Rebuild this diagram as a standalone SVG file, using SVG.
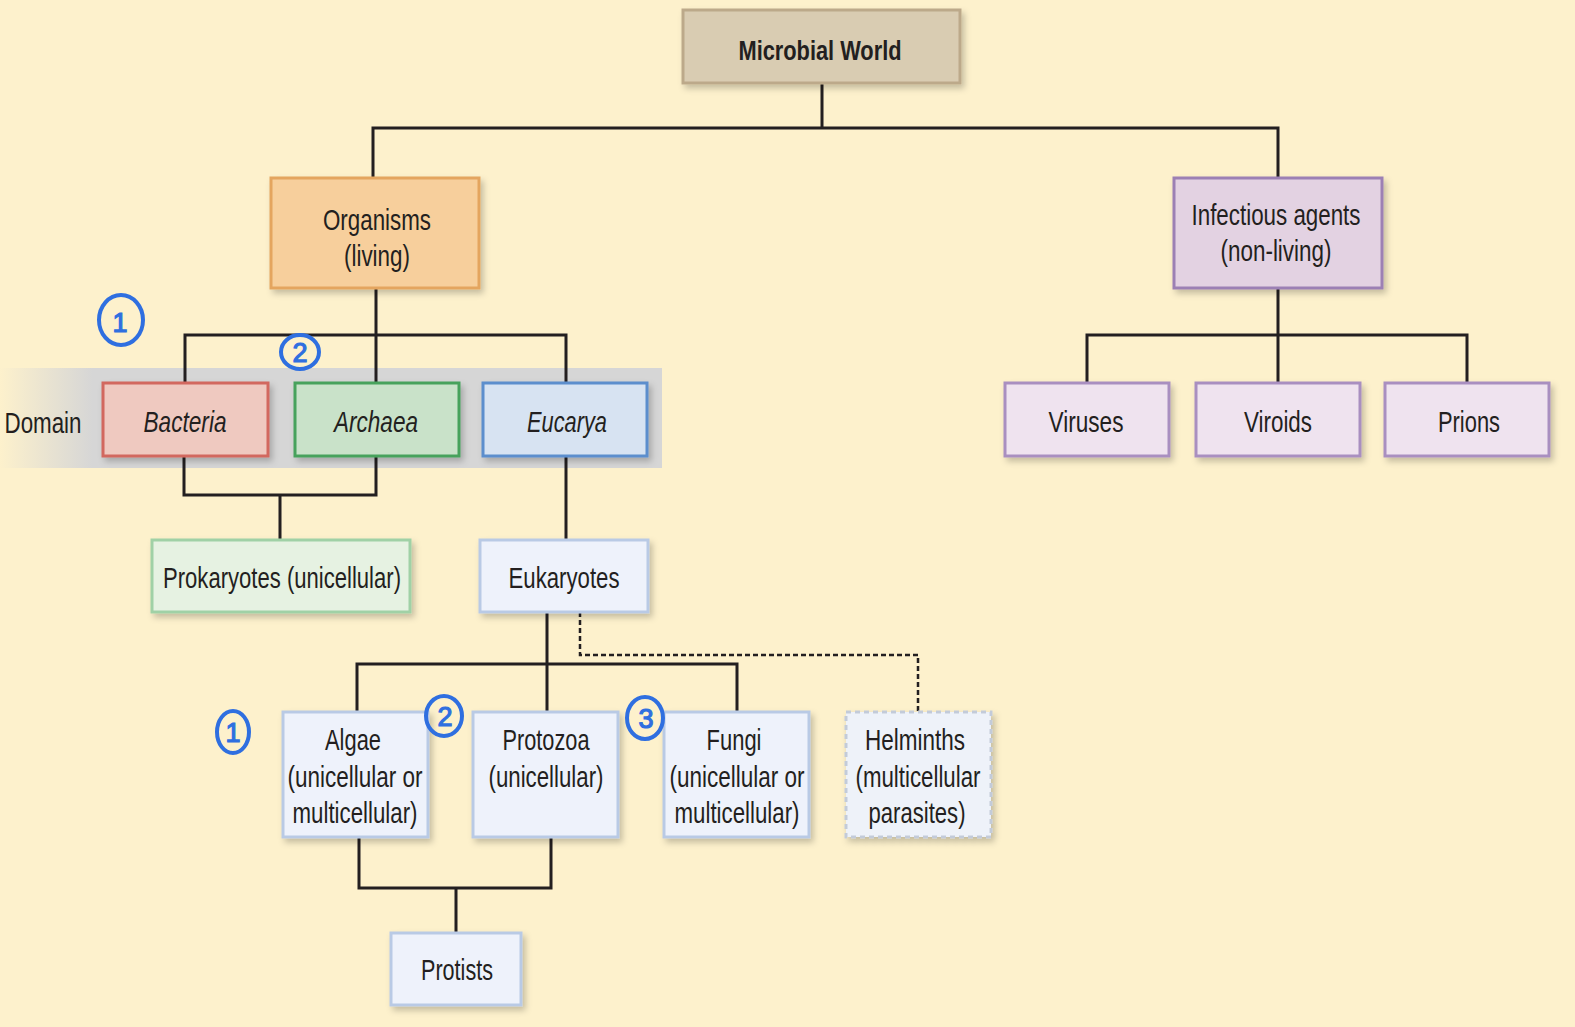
<svg xmlns="http://www.w3.org/2000/svg" width="1575" height="1027" viewBox="0 0 1575 1027">
<defs>
<filter id="sh" x="-10%" y="-10%" width="130%" height="130%">
<feDropShadow dx="3" dy="4" stdDeviation="3" flood-color="#000" flood-opacity="0.22"/>
</filter>
<linearGradient id="band" x1="0" y1="0" x2="1" y2="0">
<stop offset="0" stop-color="#fdf1cc"/>
<stop offset="0.14" stop-color="#d6d6d6"/>
<stop offset="1" stop-color="#d6d6d6"/>
</linearGradient>
<style>
text{font-family:"Liberation Sans",Arial,sans-serif;font-size:30px;fill:#231f20;text-anchor:middle}
.b{font-weight:bold;font-size:28px}
.i{font-style:italic}
.box{stroke-width:3;filter:url(#sh)}
.ln{fill:none;stroke:#231f20;stroke-width:3}
.dash{fill:none;stroke:#231f20;stroke-width:2.5;stroke-dasharray:5 3}
.ann{fill:none;stroke:#2f6fe0;stroke-width:4}
.annt{fill:#2f6fe0;stroke:#2f6fe0;stroke-width:1.2;font-family:"Liberation Sans",sans-serif;font-size:27px;text-anchor:middle}
</style>
</defs>
<rect width="1575" height="1027" fill="#fdf1cc"/>
<rect x="0" y="368" width="662" height="100" fill="url(#band)"/>
<text x="43" y="433" textLength="77" lengthAdjust="spacingAndGlyphs">Domain</text>

<g id="connectors">
<path class="ln" d="M822 83V128M373 178V128H1278V178"/>
<path class="ln" d="M376 288V383M185 383V335H566V383"/>
<path class="ln" d="M1278 288V383M1087 383V335H1467V383"/>
<path class="ln" d="M184 456V495H376V456M280 495V540"/>
<path class="ln" d="M566 456V540"/>
<path class="ln" d="M547 612V712M357 712V664H737V712"/>
<path class="dash" d="M580 612V655H918V712"/>
<path class="ln" d="M359 838V888H551V838M456 888V933"/>
</g>

<g id="microbial-world">
<rect class="box" x="683" y="10" width="277" height="73" fill="#d9ccb2" stroke="#bca98a"/>
<text class="b" x="820" y="60" textLength="163" lengthAdjust="spacingAndGlyphs">Microbial World</text>
</g>
<g id="organisms">
<rect class="box" x="271" y="178" width="208" height="110" fill="#f7cf9c" stroke="#e4a55f"/>
<text x="377" y="230" textLength="108" lengthAdjust="spacingAndGlyphs">Organisms</text>
<text x="377" y="266" textLength="66" lengthAdjust="spacingAndGlyphs">(living)</text>
</g>
<g id="infectious-agents">
<rect class="box" x="1174" y="178" width="208" height="110" fill="#e3d2e2" stroke="#9c80b4"/>
<text x="1276" y="225" textLength="169" lengthAdjust="spacingAndGlyphs">Infectious agents</text>
<text x="1276" y="261" textLength="111" lengthAdjust="spacingAndGlyphs">(non-living)</text>
</g>
<g id="bacteria">
<rect class="box" x="103" y="383" width="165" height="73" fill="#efc9c0" stroke="#d2675f"/>
<text class="i" x="185" y="432" textLength="83" lengthAdjust="spacingAndGlyphs">Bacteria</text>
</g>
<g id="archaea">
<rect class="box" x="295" y="383" width="164" height="73" fill="#c9e2c9" stroke="#47a25c"/>
<text class="i" x="376" y="432" textLength="84" lengthAdjust="spacingAndGlyphs">Archaea</text>
</g>
<g id="eucarya">
<rect class="box" x="483" y="383" width="164" height="73" fill="#d7e3f2" stroke="#5b8ecd"/>
<text class="i" x="567" y="432" textLength="80" lengthAdjust="spacingAndGlyphs">Eucarya</text>
</g>
<g id="viruses">
<rect class="box" x="1005" y="383" width="164" height="73" fill="#efe3ef" stroke="#a98fc0"/>
<text x="1086" y="432" textLength="75" lengthAdjust="spacingAndGlyphs">Viruses</text>
</g>
<g id="viroids">
<rect class="box" x="1196" y="383" width="164" height="73" fill="#efe3ef" stroke="#a98fc0"/>
<text x="1278" y="432" textLength="68" lengthAdjust="spacingAndGlyphs">Viroids</text>
</g>
<g id="prions">
<rect class="box" x="1385" y="383" width="164" height="73" fill="#efe3ef" stroke="#a98fc0"/>
<text x="1469" y="432" textLength="62" lengthAdjust="spacingAndGlyphs">Prions</text>
</g>
<g id="prokaryotes">
<rect class="box" x="152" y="540" width="258" height="72" fill="#e6f2e2" stroke="#a0d1a6"/>
<text x="282" y="588" textLength="238" lengthAdjust="spacingAndGlyphs">Prokaryotes (unicellular)</text>
</g>
<g id="eukaryotes">
<rect class="box" x="480" y="540" width="168" height="72" fill="#eef2fb" stroke="#b9cae5"/>
<text x="564" y="588" textLength="111" lengthAdjust="spacingAndGlyphs">Eukaryotes</text>
</g>
<g id="algae">
<rect class="box" x="283" y="712" width="145" height="125" fill="#eef2fb" stroke="#b9cae5"/>
<text x="353" y="750" textLength="56" lengthAdjust="spacingAndGlyphs">Algae</text>
<text x="355" y="787" textLength="135" lengthAdjust="spacingAndGlyphs">(unicellular or</text>
<text x="355" y="823" textLength="125" lengthAdjust="spacingAndGlyphs">multicellular)</text>
</g>
<g id="protozoa">
<rect class="box" x="473" y="712" width="145" height="125" fill="#eef2fb" stroke="#b9cae5"/>
<text x="546" y="750" textLength="87" lengthAdjust="spacingAndGlyphs">Protozoa</text>
<text x="546" y="787" textLength="115" lengthAdjust="spacingAndGlyphs">(unicellular)</text>
</g>
<g id="fungi">
<rect class="box" x="664" y="712" width="145" height="125" fill="#eef2fb" stroke="#b9cae5"/>
<text x="734" y="750" textLength="55" lengthAdjust="spacingAndGlyphs">Fungi</text>
<text x="737" y="787" textLength="135" lengthAdjust="spacingAndGlyphs">(unicellular or</text>
<text x="737" y="823" textLength="125" lengthAdjust="spacingAndGlyphs">multicellular)</text>
</g>
<g id="helminths">
<rect x="846" y="712" width="145" height="125" fill="#eef2f9" stroke="#c3cbd9" stroke-width="3" stroke-dasharray="5 4" filter="url(#sh)"/>
<text x="915" y="750" textLength="100" lengthAdjust="spacingAndGlyphs">Helminths</text>
<text x="918" y="787" textLength="125" lengthAdjust="spacingAndGlyphs">(multicellular</text>
<text x="917" y="823" textLength="97" lengthAdjust="spacingAndGlyphs">parasites)</text>
</g>
<g id="protists">
<rect class="box" x="391" y="933" width="130" height="72" fill="#eef2fb" stroke="#b9cae5"/>
<text x="457" y="980" textLength="72" lengthAdjust="spacingAndGlyphs">Protists</text>
</g>

<g id="annotations">
<ellipse class="ann" cx="121" cy="320" rx="22" ry="25"/>
<text class="annt" x="120" y="332">1</text>
<ellipse class="ann" cx="300" cy="352" rx="19" ry="17"/>
<text class="annt" x="300" y="362" font-size="23">2</text>
<ellipse class="ann" cx="233" cy="732" rx="16" ry="21"/>
<text class="annt" x="233" y="742">1</text>
<ellipse class="ann" cx="444" cy="716" rx="18" ry="20"/>
<text class="annt" x="445" y="726">2</text>
<ellipse class="ann" cx="645" cy="718" rx="18" ry="21"/>
<text class="annt" x="646" y="728">3</text>
</g>
</svg>
